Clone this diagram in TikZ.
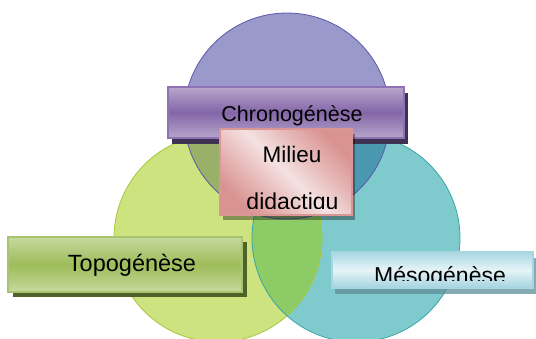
\documentclass[tikz,border=0pt]{standalone}
\usepackage{fontspec}
\setmainfont{Liberation Sans}
\usetikzlibrary{shadows}

\definecolor{chronofill}{HTML}{9999CC}
\definecolor{chronoline}{HTML}{5A5AA8}
\definecolor{topofill}{HTML}{CCE380}
\definecolor{topoline}{HTML}{A9C83A}
\definecolor{mesofill}{HTML}{7FCACC}
\definecolor{mesoline}{HTML}{3AA6AA}
\definecolor{chrtopo}{HTML}{99B068}
\definecolor{chrmeso}{HTML}{4A98B0}
\definecolor{topomeso}{HTML}{8CCB66}
\definecolor{centre}{HTML}{7E9F62}
% card colours
\definecolor{chrborder}{HTML}{8E72B4}
\definecolor{chrlight}{HTML}{B6A6CC}
\definecolor{chrdark}{HTML}{8466A8}
\definecolor{chrshadow}{HTML}{3F3151}
\definecolor{topborder}{HTML}{A9C46E}
\definecolor{toplight}{HTML}{C6D99E}
\definecolor{topdark}{HTML}{9DBC5A}
\definecolor{topshadow}{HTML}{4F6228}
\definecolor{mesborder}{HTML}{A8D6E0}
\definecolor{mestop}{HTML}{A9D7E2}
\definecolor{meslight}{HTML}{E6F4F8}
\definecolor{mesbottom}{HTML}{A4D3DF}
\definecolor{messhadow}{HTML}{5E8E98}
\definecolor{milborder}{HTML}{D99694}
\definecolor{mildark}{HTML}{D99391}
\definecolor{millight}{HTML}{F4E1E1}

\tikzset{
  lbl/.style={anchor=base, text=black, inner sep=0pt},
  card/.style={draw, line width=1.2pt, inner sep=0pt, rectangle}
}

\begin{document}
\begin{tikzpicture}[x=1pt,y=-1pt]
    \useasboundingbox (0,0) rectangle (536,338);
    % the three circles
    \coordinate (chr) at (287,116);
    \coordinate (top) at (218,238);
    \coordinate (mes) at (356,238);
    \fill[topofill] (top) circle[radius=104pt];
    \fill[mesofill] (mes) circle[radius=104pt];
    \fill[chronofill] (chr) circle[radius=103pt];
    \begin{scope}
        \clip (top) circle[radius=104pt];
        \fill[topomeso] (mes) circle[radius=104pt];
    \end{scope}
    \begin{scope}
        \clip (chr) circle[radius=103pt];
        \fill[chrtopo] (top) circle[radius=104pt];
        \fill[chrmeso] (mes) circle[radius=104pt];
        \clip (top) circle[radius=104pt];
        \fill[centre] (mes) circle[radius=104pt];
    \end{scope}
    \draw[topoline, line width=0.8pt] (top) circle[radius=104pt];
    \draw[mesoline, line width=0.8pt] (mes) circle[radius=104pt];
    \draw[chronoline, line width=0.8pt] (chr) circle[radius=103pt];

    % Chronogenese
    \node[card, draw=chrborder, minimum width=236pt, minimum height=51pt,
        top color=chrlight, bottom color=chrlight, middle color=chrdark,
        drop shadow={shadow xshift=4pt, shadow yshift=-6pt, fill=chrshadow, opacity=1}]
        (chrbox) at (286,112.5) {};
    \node[lbl, font=\fontsize{21.5}{24}\selectfont] (chrtxt) at (292,121.5) {Chronogénèse};

    % Topogenese
    \node[card, draw=topborder, minimum width=234pt, minimum height=55pt,
        top color=toplight, bottom color=toplight, middle color=topdark,
        drop shadow={shadow xshift=5pt, shadow yshift=-5pt, fill=topshadow, opacity=1}]
        (topbox) at (125,264.5) {};
    \node[lbl, font=\fontsize{23.5}{26}\selectfont] (toptxt) at (132,271.5) {Topogénèse};

    % Mesogenese
    \node[card, draw=mesborder, minimum width=201pt, minimum height=36pt,
        top color=mestop, bottom color=mesbottom, middle color=meslight,
        drop shadow={shadow xshift=3pt, shadow yshift=-6pt, fill=messhadow, opacity=0.75}]
        (mesbox) at (432.5,270) {};
    \begin{scope}
        \clip (333,253) rectangle (532,280);
        \node[lbl, font=\fontsize{23}{26}\selectfont] (mestxt) at (440,283.5) {Mésogénèse};
    \end{scope}

    % Milieu didactique
    \node[card, draw=milborder, minimum width=132pt, minimum height=86pt,
        left color=mildark, right color=mildark, middle color=millight,
        shading angle=135,
        drop shadow={shadow xshift=3pt, shadow yshift=-5pt, fill=black, opacity=0.35}]
        (milbox) at (286,172) {};
    \begin{scope}
        \clip (221,130) rectangle (351,208);
        \node[lbl, font=\fontsize{22.5}{26}\selectfont] (miltxt) at (292,162) {Milieu};
        \node[lbl, font=\fontsize{23}{26}\selectfont] (didtxt) at (292.5,209) {didactiqu};
    \end{scope}
\end{tikzpicture}
\end{document}
